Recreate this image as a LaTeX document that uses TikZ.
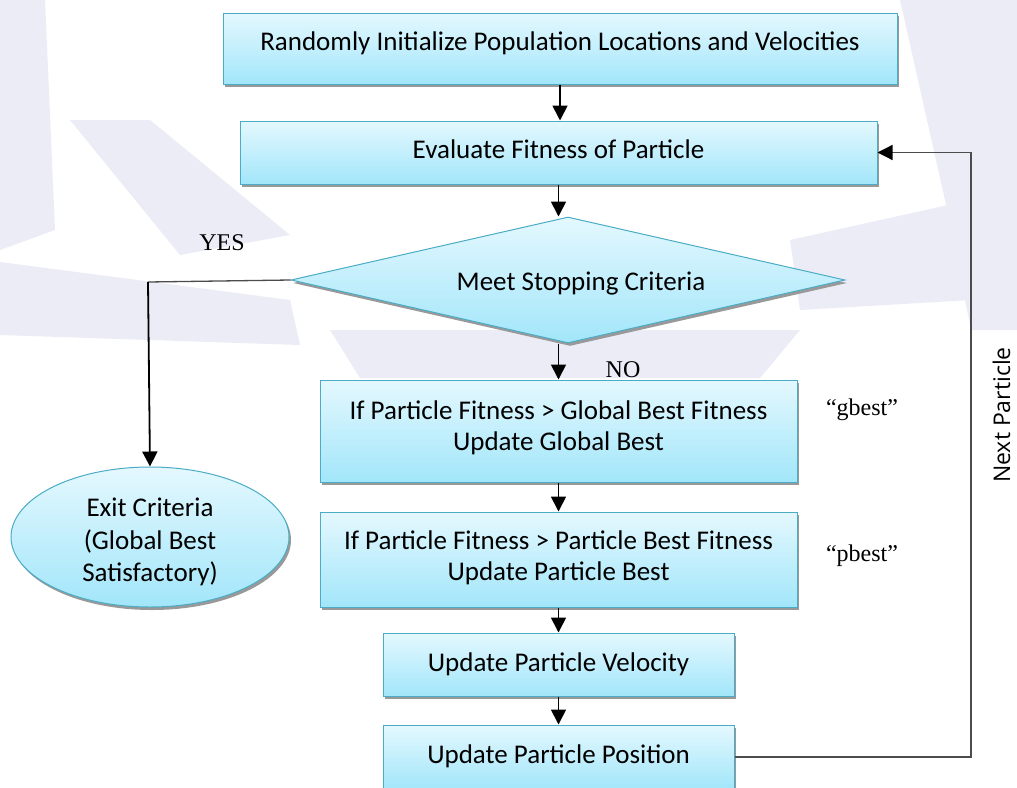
\documentclass[tikz,border=0pt]{standalone}
\usepackage{fontspec}
\setmainfont{Liberation Serif}
\newfontfamily\carl{Carlito}
\newfontfamily\osans{Open Sans}
\usetikzlibrary{shapes.geometric,shadows,arrows.meta}
\definecolor{bord}{HTML}{4BACC6}
\definecolor{ftop}{HTML}{E4F8FE}
\definecolor{fbot}{HTML}{A2E6FA}
\definecolor{wmark}{HTML}{ECECF7}
\tikzset{
  shapestyle/.style={draw=bord, line width=1pt, top color=ftop, bottom color=fbot,
    drop shadow={shadow xshift=2pt, shadow yshift=-3pt, fill=black!40, opacity=1}, inner sep=0pt},
  box/.style={shapestyle, rectangle, font=\carl\fontsize{27}{31}\selectfont, align=center},
  tip/.style={-{Triangle[length=15pt,width=15pt,black]}},
  arr/.style={tip, line width=1.8pt, black},
  lnk/.style={line width=1.3pt, black!70},
  tms/.style={font=\fontsize{24}{27}\selectfont, inner sep=0pt},
  wm/.style={fill=wmark}
}
\begin{document}
\begin{tikzpicture}[x=1pt,y=-1pt]
\useasboundingbox (0,0) rectangle (1017,787);
\clip (0,0) rectangle (1017,787);
\fill[white] (0,0) rectangle (1017,787);
% faint watermark bands
\fill[wm] (0,0) -- (45,0) -- (55,230) -- (0,250) -- cycle;
\fill[wm] (0,262) -- (290,300) -- (300,345) -- (0,335) -- cycle;
\fill[wm] (70,120) -- (150,120) -- (290,235) -- (180,255) -- cycle;
\fill[wm] (330,330) -- (800,330) -- (760,378) -- (360,378) -- cycle;
\fill[wm] (900,0) -- (1017,0) -- (1017,330) -- (971,330) -- (945,200) -- cycle;
\fill[wm] (790,240) -- (971,200) -- (971,300) -- (800,310) -- cycle;

\node[box, minimum width=674pt, minimum height=71pt, text depth=14pt] (init) at (560,48.5) {Randomly Initialize Population Locations and Velocities};
\node[box, minimum width=637pt, minimum height=63pt, text depth=6pt] (eval) at (558.5,152.5) {Evaluate Fitness of Particle};
\node[shapestyle, diamond, aspect=4.4, minimum width=554pt, minimum height=126pt] (stop) at (568,280) {};
\node[font=\carl\fontsize{27}{31}\selectfont, inner sep=0pt] (stopt) at (581,284) {Meet Stopping Criteria};
\node[box, minimum width=477pt, minimum height=102pt, text depth=10pt] (gb) at (558.5,431) {If Particle Fitness > Global Best Fitness\\Update Global Best};
\node[box, minimum width=477pt, minimum height=95pt, text depth=7pt] (pb) at (558.5,559.5) {If Particle Fitness > Particle Best Fitness\\Update Particle Best};
\node[box, minimum width=351pt, minimum height=63pt, text depth=5pt] (vel) at (558.5,664.5) {Update Particle Velocity};
\node[box, minimum width=351pt, minimum height=64pt, text depth=6pt] (pos) at (558.5,757) {Update Particle Position};
\node[shapestyle, ellipse, minimum width=278pt, minimum height=140pt] (exit) at (150,537) {};
\node[font=\carl\fontsize{27}{32.5}\selectfont, align=center, inner sep=0pt] (exitt) at (150,542) {Exit Criteria\\(Global Best\\Satisfactory)};

\draw[arr] (init.south) -- (init.south |- eval.north);
\draw[arr] (eval.south) -- (eval.south |- stop.north);
\draw[arr] (gb.north |- stop.south) -- (gb.north);
\draw[arr] (gb.south) -- (pb.north);
\draw[arr] (pb.south) -- (vel.north);
\draw[arr] (vel.south) -- (pos.north);

\coordinate (yc) at (148,282);
\draw[lnk] (stop.west) -- (yc);
\draw[arr] (yc) -- (exit.north);

\coordinate (loopx) at (971,450);
\draw[lnk, tip] (pos.east) -| (loopx) |- (eval.east);

\node[tms] (yes) at (222,243) {YES};
\node[tms] (no) at (623,370) {NO};
\node[tms] (gbl) at (862,410) {“gbest”};
\node[tms] (pbl) at (862,556) {“pbest”};
\node[font=\osans\fontsize{23}{26}\selectfont, rotate=90, inner sep=0pt, anchor=base] (np) at (1010,415) {Next Particle};
\end{tikzpicture}
\end{document}
